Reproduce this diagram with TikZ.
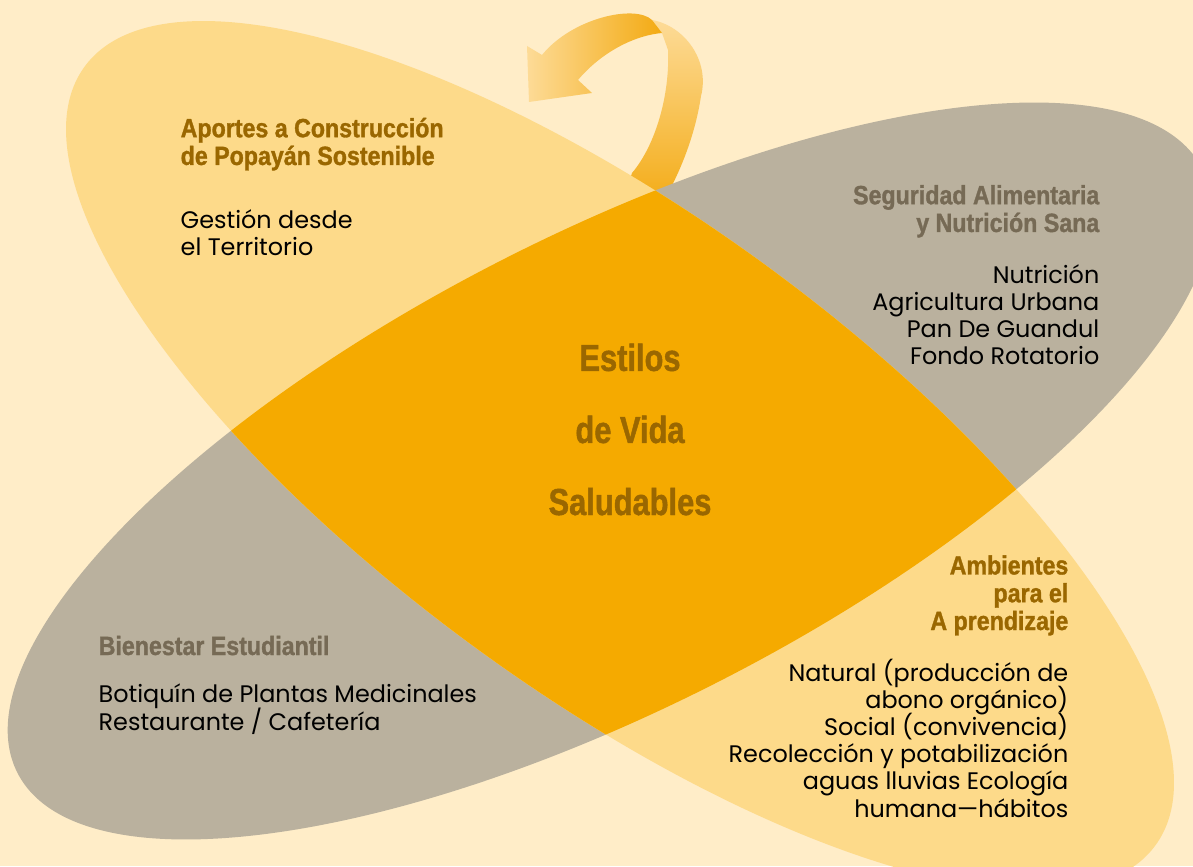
\documentclass[tikz,border=0pt]{standalone}
\usepackage{fontspec}
\setmainfont{Poppins}
\newfontfamily\headfont[FakeStretch=0.88, FakeBold=1.2]{Liberation Sans}
\newfontfamily\bigfont[FakeStretch=0.82, FakeBold=1.2]{Liberation Sans}
\newcommand\tightlines{\lineskiplimit=-20pt\relax\lineskip=0pt\relax}
\usetikzlibrary{positioning}

\definecolor{bgcream}{HTML}{FFEDC8}
\definecolor{yelfill}{HTML}{FDDA8A}
\definecolor{grayfill}{HTML}{BAB19E}
\definecolor{orangefill}{HTML}{F5AA00}
\definecolor{headbrown}{HTML}{9A6700}
\definecolor{headgray}{HTML}{766A55}
\definecolor{armpale}{HTML}{FDDB97}
\definecolor{armdeep}{HTML}{F3AA12}

\begin{document}
\begin{tikzpicture}[
        head/.style={font=\headfont\bfseries\fontsize{7.5}{7.9}\selectfont\tightlines, inner sep=0pt},
        body/.style={font=\fontsize{6.8}{7.7}\selectfont\tightlines, inner sep=0pt, text=black},
        core/.style={font=\bigfont\bfseries\fontsize{10.7}{20.5}\selectfont, inner sep=0pt, text=headbrown, align=center}
    ]
    \clip (0,0) rectangle (11.93,8.66);
    \fill[bgcream] (0,0) rectangle (11.93,8.66);

    % curved arrow, back part then front part
    \shade[top color=armpale, bottom color=armdeep]
        (6.28,6.80) -- (6.32,6.93) .. controls (6.55,7.20) and (6.70,7.70) .. (6.68,8.16)
        -- (6.62,8.33) -- (6.52,8.46)
        .. controls (6.85,8.40) and (7.10,8.05) .. (7.01,7.70)
        .. controls (6.95,7.30) and (6.80,6.95) .. (6.68,6.73) -- (6.72,6.55) -- cycle;
    \shade[left color=armpale, right color=armdeep]
        (6.52,8.46) .. controls (6.35,8.62) and (5.72,8.48) .. (5.42,8.11)
        -- (5.27,8.20) -- (5.29,7.64) -- (5.92,7.73) -- (5.78,7.86)
        .. controls (5.98,8.10) and (6.30,8.30) .. (6.62,8.33) -- cycle;

    % the two ellipses and their overlap
    \fill[grayfill, rotate around={27:(6.10,3.95)}] (6.10,3.95) ellipse (6.65 and 2.37);
    \fill[yelfill, rotate around={-36:(6.20,4.10)}] (6.20,4.10) ellipse (6.62 and 2.40);
    \begin{scope}
        \clip[rotate around={-36:(6.20,4.10)}] (6.20,4.10) ellipse (6.62 and 2.40);
        \fill[orangefill, rotate around={27:(6.10,3.95)}] (6.10,3.95) ellipse (6.65 and 2.37);
    \end{scope}

    \node[core, anchor=base] (estilos) at (6.30,3.51) {Estilos\\de Vida\\Saludables};

    \node[head, text=headbrown, align=left, anchor=base west] (aportes) at (1.80,7.01)
        {Aportes a Construcción\\de Popayán Sostenible};
    \node[body, align=left, below=0.91 of aportes.base west, anchor=base west] (gestion)
        {Gestión desde\\el Territorio};

    \node[head, text=headgray, align=right, anchor=base east] (seguridad) at (11.00,6.34)
        {Seguridad Alimentaria\\y Nutrición Sana};
    \node[body, align=right, below=1.33 of seguridad.base east, anchor=base east] (nutricion)
        {Nutrición\\Agricultura Urbana\\Pan De Guandul\\Fondo Rotatorio};

    \node[head, text=headbrown, align=right, anchor=base east] (ambientes) at (10.69,2.36)
        {Ambientes\\para el\\A prendizaje};
    \node[body, align=right, below=1.87 of ambientes.base east, anchor=base east] (natural)
        {Natural (producción de\\abono orgánico)\\Social (convivencia)\\Recolección y potabilización\\aguas lluvias Ecología\\humana---hábitos};

    \node[head, text=headgray, align=left, anchor=base west] (bienestar) at (0.98,2.11)
        {Bienestar Estudiantil};
    \node[body, align=left, below=0.75 of bienestar.base west, anchor=base west] (botiquin)
        {Botiquín de Plantas Medicinales\\Restaurante / Cafetería};
\end{tikzpicture}
\end{document}
